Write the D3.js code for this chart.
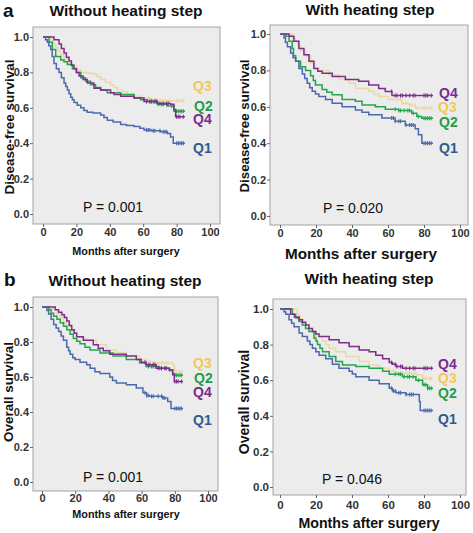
<!DOCTYPE html>
<html><head><meta charset="utf-8">
<script src="https://cdn.jsdelivr.net/npm/d3@7"></script>
<style>html,body{margin:0;padding:0;background:#fff;}svg{display:block;}</style>
</head><body>
<svg id="chart" width="473" height="533"></svg>
<script>
// ---------- DATA ----------
const groups = ["Q1", "Q2", "Q3", "Q4"];
const xTicks = [0, 20, 40, 60, 80, 100];
const yTicks = [0.0, 0.2, 0.4, 0.6, 0.8, 1.0];
const panelTitles = ["Without heating step", "With heating step", "Without heating step", "With heating step"];
const yLabels = ["Disease-free survival", "Disease-free survival", "Overall survival", "Overall survival"];
const xLabel = "Months after surgery";
const pValues = ["P = 0.001", "P = 0.020", "P = 0.001", "P = 0.046"];

// Panel a, without heating (disease-free survival) [month, survival]
const dfsWithoutQ1 = [[0,1],[1.5,0.985],[2.6,0.97],[3.5,0.95],[4.6,0.93],[5.5,0.89],[6.6,0.85],[8,0.82],[9.6,0.80],[11,0.77],[12.6,0.74],[13.6,0.72],[14.6,0.70],[15.6,0.68],[16.6,0.66],[17.6,0.645],[18.6,0.63],[20.5,0.615],[22.6,0.60],[24.5,0.585],[26.5,0.575],[30,0.57],[34.5,0.56],[36.5,0.545],[38.5,0.53],[42,0.52],[46.5,0.505],[50,0.50],[54.5,0.495],[58,0.485],[60.5,0.475],[65,0.47],[70.5,0.465],[74.5,0.455],[76.4,0.435],[78,0.40],[85,0.40]];
const dfsWithoutQ2 = [[0,1],[1.6,1],[3.6,0.97],[5.6,0.93],[7.6,0.89],[10.6,0.87],[12.6,0.86],[14.6,0.845],[17.6,0.82],[20,0.80],[22.6,0.77],[25.5,0.75],[28.5,0.73],[31.5,0.715],[34.5,0.70],[38.5,0.685],[46.5,0.675],[54.5,0.655],[58.5,0.645],[62.5,0.635],[68.5,0.62],[74.5,0.61],[78.4,0.58],[85,0.58]];
const dfsWithoutQ3 = [[0,1],[2.6,1],[4.6,0.98],[6,0.96],[7.6,0.94],[9,0.92],[10.6,0.90],[12.5,0.875],[14.6,0.855],[16.6,0.84],[18.6,0.83],[20.5,0.815],[22.6,0.80],[26,0.795],[30.5,0.79],[32.5,0.775],[34.5,0.76],[37.5,0.745],[40.5,0.73],[42.5,0.715],[44.5,0.70],[47.5,0.69],[50.5,0.675],[54.5,0.665],[58.5,0.655],[64.5,0.645],[70,0.64],[85,0.64]];
const dfsWithoutQ4 = [[0,1],[4.6,1],[6.6,0.985],[9.6,0.96],[11,0.935],[12.6,0.91],[14,0.885],[15.6,0.865],[17,0.84],[18.6,0.82],[20,0.80],[21.6,0.78],[24,0.76],[26.5,0.74],[30.5,0.71],[34.5,0.70],[40.5,0.685],[42.5,0.675],[46.5,0.665],[54.5,0.655],[60.5,0.635],[68.5,0.625],[76.4,0.62],[78.4,0.59],[79.4,0.55],[85,0.55]];

// Panel a, with heating
const dfsWithQ1 = [[0,1],[1,1],[2.2,0.98],[3,0.955],[4.1,0.93],[5.9,0.895],[7.3,0.87],[8.7,0.85],[10.5,0.81],[12.4,0.78],[13.7,0.755],[15.1,0.73],[16.5,0.705],[17.9,0.685],[19.7,0.67],[21.6,0.657],[25.3,0.64],[29,0.62],[34.5,0.60],[41.9,0.583],[45.5,0.57],[49.3,0.556],[56.6,0.538],[64,0.52],[69.6,0.50],[75.1,0.48],[76.9,0.446],[78.8,0.40],[85,0.40]];
const dfsWithQ2 = [[0,1],[2,1],[3.1,0.987],[5,0.96],[6.8,0.92],[7.5,0.88],[8.7,0.85],[11.4,0.82],[14.2,0.80],[17,0.77],[18.5,0.745],[19.7,0.72],[23.4,0.695],[26,0.68],[29,0.666],[34.5,0.64],[41.9,0.63],[45.6,0.61],[53,0.60],[58.5,0.587],[65.9,0.58],[73.2,0.565],[76,0.547],[78.8,0.537],[85,0.537]];
const dfsWithQ3 = [[0,1],[5,1],[6.8,0.98],[8.7,0.96],[10,0.935],[11.4,0.91],[14.2,0.88],[17,0.84],[19.3,0.815],[21.6,0.80],[27.1,0.775],[32.7,0.75],[38.2,0.73],[41.9,0.70],[49.3,0.685],[52,0.67],[54.8,0.657],[60.3,0.64],[67.7,0.62],[71.4,0.61],[75.1,0.593],[85,0.593]];
const dfsWithQ4 = [[0,1],[3.1,1],[5,0.987],[7.7,0.96],[10.5,0.92],[13.3,0.886],[16.1,0.85],[18.8,0.81],[21,0.795],[23.4,0.785],[29,0.767],[36.3,0.75],[43.7,0.74],[49.3,0.72],[54.8,0.70],[58.5,0.684],[62.2,0.662],[85,0.662]];

// Panel b, without heating (overall survival)
const osWithoutQ1 = [[0,1],[2,1],[3,0.98],[4,0.96],[5.5,0.93],[7,0.90],[8.5,0.88],[10,0.86],[11.5,0.835],[12.9,0.81],[14.9,0.77],[16,0.75],[16.9,0.73],[18.5,0.71],[19.9,0.70],[22.9,0.685],[26.9,0.67],[29,0.65],[31.9,0.63],[34.9,0.62],[40.8,0.60],[42.5,0.58],[44.8,0.566],[50.8,0.556],[56.8,0.537],[60.8,0.51],[63,0.495],[64.7,0.49],[72.7,0.48],[75.7,0.46],[77.7,0.42],[85,0.42]];
const osWithoutQ2 = [[0,1],[2,1],[4,0.985],[5.5,0.965],[7,0.947],[9,0.93],[11,0.91],[13,0.89],[14.9,0.87],[16.9,0.845],[18.9,0.82],[20.9,0.805],[22.9,0.79],[25.9,0.77],[28.9,0.755],[34.9,0.737],[42.8,0.72],[50.8,0.70],[58.8,0.68],[62.7,0.66],[70.7,0.65],[76.7,0.64],[78.7,0.62],[80,0.61],[85,0.61]];
const osWithoutQ3 = [[0,1],[3,1],[5,0.99],[7,0.985],[9,0.96],[11,0.94],[13,0.915],[14.9,0.89],[17.9,0.86],[20.9,0.83],[24,0.82],[26.9,0.81],[32.9,0.785],[38.8,0.755],[44.8,0.74],[50.8,0.72],[58.8,0.70],[62.7,0.69],[66.7,0.68],[78.7,0.67],[79.7,0.64],[81,0.63],[85,0.63]];
const osWithoutQ4 = [[0,1],[5,1],[8,0.985],[10,0.97],[12,0.956],[13.5,0.94],[14.9,0.92],[16.4,0.895],[17.9,0.87],[19.4,0.85],[20.9,0.83],[24.9,0.81],[30.9,0.785],[33.9,0.765],[36.9,0.75],[40.8,0.73],[50.8,0.72],[56.8,0.70],[59.8,0.685],[62.7,0.67],[68.7,0.65],[76.7,0.64],[78.7,0.613],[79.7,0.575],[85,0.575]];

// Panel b, with heating
const osWithQ1 = [[0,1],[1.3,1],[2.2,0.985],[3.2,0.97],[5,0.94],[6.4,0.92],[7.8,0.90],[10.6,0.865],[12.4,0.846],[15.2,0.82],[16.6,0.80],[18,0.78],[19.9,0.76],[21.7,0.74],[25.4,0.72],[29.1,0.69],[32.8,0.667],[38.4,0.65],[40.2,0.635],[42.1,0.62],[49.5,0.60],[55.1,0.58],[60.7,0.555],[62.5,0.54],[64.4,0.53],[69.9,0.52],[76.5,0.52],[77.4,0.48],[77.9,0.43],[85,0.43]];
const osWithQ2 = [[0,1],[5,1],[6.9,0.97],[8.7,0.95],[10.5,0.93],[12.4,0.91],[14.2,0.89],[16.1,0.874],[18.9,0.836],[20,0.82],[20.8,0.80],[22.2,0.78],[23.6,0.76],[27.3,0.733],[31,0.705],[34.7,0.686],[42.1,0.677],[49.5,0.667],[57,0.65],[60.7,0.633],[68.1,0.62],[75.5,0.60],[79.2,0.575],[82,0.555],[85,0.555]];
const osWithQ3 = [[0,1],[7.8,1],[9.6,0.97],[11,0.945],[12.4,0.92],[14.2,0.895],[16.1,0.874],[19.9,0.846],[23.6,0.82],[25.5,0.80],[27.3,0.78],[31,0.76],[36.5,0.733],[44,0.705],[49.5,0.686],[55.1,0.667],[60.7,0.65],[64.4,0.64],[75.5,0.63],[79.2,0.61],[85,0.61]];
const osWithQ4 = [[0,1],[3.2,1],[5.9,0.97],[8,0.955],[10.6,0.94],[12.5,0.925],[14.3,0.91],[16.1,0.89],[18,0.874],[19.9,0.86],[21.7,0.846],[27.3,0.827],[32.8,0.81],[38.4,0.79],[44,0.77],[49.5,0.76],[53.2,0.74],[57,0.72],[60.7,0.70],[62.5,0.69],[64.4,0.677],[68.1,0.667],[85,0.667]];

// Censored observation times (months), tail region
const censorQ1 = [62,63,64,66,67,70,72,73,74,80,81,82,83,84];
const censorQ2 = [64,66,67,69,71,72,74,77,80,81,82,83,84];
const censorQ3 = [63,65,67,68,70,72,73,75,76,80,81,83,84];
const censorQ4 = [62,64,65,67,68,70,72,74,75,80,81,82,84];

// ---------- STYLE / LAYOUT ----------
const lineColors = {Q1:"#4b69ad", Q2:"#22a54c", Q3:"#e9d9a6", Q4:"#7c2d8e"};
const labelColors = {Q1:"#2e5b8f", Q2:"#1f9e48", Q3:"#f2c858", Q4:"#7b2a8c"};
const font = "'Liberation Sans', Arial, sans-serif";

const panels = [
  {frame:[33,220,27,224], xr:[43,210], yr:[214,37], tx:126, ty:16, letter:"a", lx:3, ly:17,
   ylx:14, yly:127, ylSize:13.5, xlx:126, xly:255, xlSize:10.8, px:113, py:212, tickPad:1.5, tickFs:11,
   series:{Q1:dfsWithoutQ1,Q2:dfsWithoutQ2,Q3:dfsWithoutQ3,Q4:dfsWithoutQ4},
   lab:{Q3:[193,91],Q2:[194,111],Q4:[193,124],Q1:[193,153]}},
  {frame:[270,468,25,225], xr:[280,460], yr:[216,34], tx:370, ty:15, letter:null,
   ylx:249, yly:126, ylSize:13.3, xlx:361, xly:259, xlSize:15.3, px:353, py:213, tickPad:1.5, tickFs:11,
   series:{Q1:dfsWithQ1,Q2:dfsWithQ2,Q3:dfsWithQ3,Q4:dfsWithQ4},
   lab:{Q4:[439,98],Q3:[438,112],Q2:[439,127],Q1:[439,153]}},
  {frame:[33,218,297,491], xr:[42,208], yr:[482,307], tx:125, ty:286, letter:"b", lx:4, ly:286,
   ylx:13, yly:392, ylSize:13.4, xlx:126, xly:518, xlSize:10.8, px:113, py:482, tickPad:0.5, tickFs:11,
   series:{Q1:osWithoutQ1,Q2:osWithoutQ2,Q3:osWithoutQ3,Q4:osWithoutQ4},
   lab:{Q3:[193,368],Q2:[194,383],Q4:[193,397],Q1:[193,425]}},
  {frame:[273,466,299,495], xr:[280,460], yr:[487,309], tx:369, ty:284, letter:null,
   ylx:249, yly:402, ylSize:14, xlx:369, xly:528, xlSize:14.2, px:352, py:484, tickPad:3, tickFs:11.5,
   series:{Q1:osWithQ1,Q2:osWithQ2,Q3:osWithQ3,Q4:osWithQ4},
   lab:{Q4:[438,369],Q3:[438,383],Q2:[438,398],Q1:[438,424]}}
];
const censors = {Q1:censorQ1, Q2:censorQ2, Q3:censorQ3, Q4:censorQ4};

const svg = d3.select("#chart");
svg.append("rect").attr("width",473).attr("height",533).attr("fill","#fff");

panels.forEach((p, i) => {
  const g = svg.append("g");
  const [fx0, fx1, fy0, fy1] = p.frame;
  const x = d3.scaleLinear().domain([0,100]).range(p.xr);
  const y = d3.scaleLinear().domain([0,1]).range(p.yr);

  g.append("rect").attr("x",fx0).attr("y",fy0).attr("width",fx1-fx0).attr("height",fy1-fy0)
    .attr("fill","#ececec").attr("stroke","#a3a3a3").attr("stroke-width",1);

  // axes
  const xa = g.append("g").attr("transform",`translate(0,${fy1})`)
    .call(d3.axisBottom(x).tickValues(xTicks).tickFormat(d3.format("d")).tickSize(3).tickSizeOuter(0).tickPadding(p.tickPad));
  const ya = g.append("g").attr("transform",`translate(${fx0},0)`)
    .call(d3.axisLeft(y).tickValues(yTicks).tickFormat(d3.format(".1f")).tickSize(3).tickSizeOuter(0).tickPadding(1));
  [xa, ya].forEach(a => {
    a.select(".domain").remove();
    a.selectAll("line").attr("stroke","#666");
    a.selectAll("text").attr("font-family",font).attr("font-weight","bold").attr("font-size",p.tickFs).attr("fill","#333");
  });

  // curves
  const line = d3.line().curve(d3.curveStepAfter).x(d => x(d[0])).y(d => y(d[1]));
  ["Q3","Q2","Q4","Q1"].forEach(k => {
    const data = p.series[k];
    g.append("path").datum(data).attr("d",line).attr("fill","none")
      .attr("stroke",lineColors[k]).attr("stroke-width",1.5);
    const sAt = t => { let s = 1; data.forEach(d => { if (d[0] <= t) s = d[1]; }); return s; };
    g.selectAll(null).data(censors[k]).enter().append("line")
      .attr("x1",t => x(t)).attr("x2",t => x(t))
      .attr("y1",t => y(sAt(t)) - 2).attr("y2",t => y(sAt(t)) + 2)
      .attr("stroke",lineColors[k]).attr("stroke-width",1.1);
  });

  // group labels
  groups.forEach(k => {
    g.append("text").attr("x",p.lab[k][0]).attr("y",p.lab[k][1]).text(k)
      .attr("font-family",font).attr("font-weight","bold").attr("font-size",14)
      .attr("fill",labelColors[k]);
  });

  // P value
  g.append("text").attr("x",p.px).attr("y",p.py).attr("text-anchor","middle")
    .attr("font-family",font).attr("font-size",14).attr("fill","#111").text(pValues[i]);

  // titles
  g.append("text").attr("x",p.tx).attr("y",p.ty).attr("text-anchor","middle")
    .attr("font-family",font).attr("font-weight","bold").attr("font-size",15.5).attr("fill","#111").text(panelTitles[i]);
  if (p.letter) {
    g.append("text").attr("x",p.lx).attr("y",p.ly)
      .attr("font-family",font).attr("font-weight","bold").attr("font-size",19).attr("fill","#111").text(p.letter);
  }
  // axis labels
  g.append("text").attr("transform",`translate(${p.ylx},${p.yly}) rotate(-90)`).attr("text-anchor","middle")
    .attr("font-family",font).attr("font-weight","bold").attr("font-size",p.ylSize).attr("fill","#111").text(yLabels[i]);
  g.append("text").attr("x",p.xlx).attr("y",p.xly).attr("text-anchor","middle")
    .attr("font-family",font).attr("font-weight","bold").attr("font-size",p.xlSize).attr("fill","#111").text(xLabel);
});
</script>
</body></html>
